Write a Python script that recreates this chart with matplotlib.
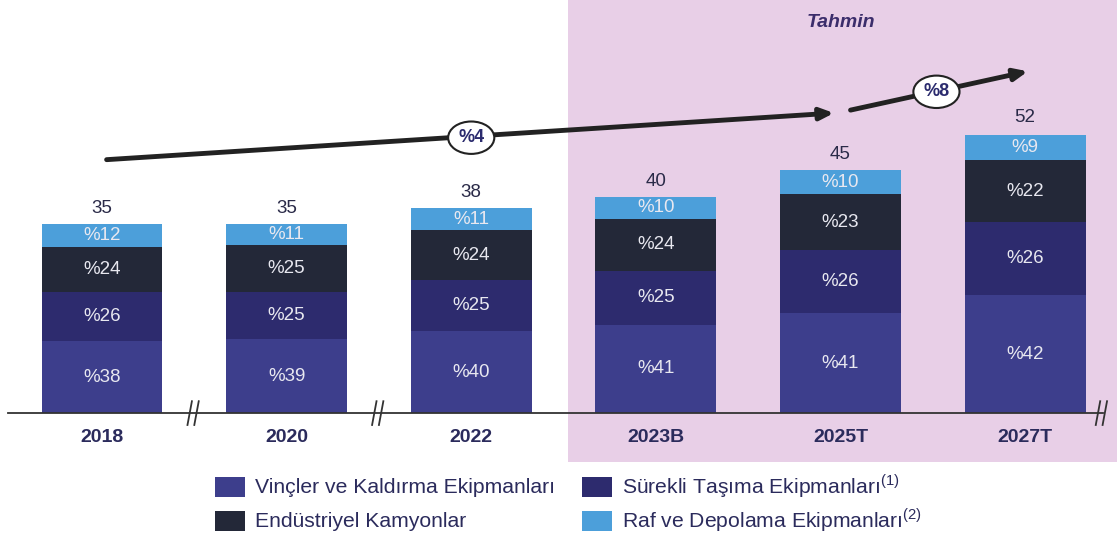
import matplotlib.pyplot as plt
from matplotlib.patches import Rectangle, Ellipse

years = ["2018", "2020", "2022", "2023B", "2025T", "2027T"]
totals = [35, 35, 38, 40, 45, 52]
vincler = [38, 39, 40, 41, 41, 42]       # Vinçler ve Kaldırma Ekipmanları
surekli = [26, 25, 25, 25, 26, 26]       # Sürekli Taşıma Ekipmanları
endustri = [24, 25, 24, 24, 23, 22]      # Endüstriyel Kamyonlar
raf = [12, 11, 11, 10, 10, 9]            # Raf ve Depolama Ekipmanları
cagr_labels = ["%4", "%8"]

colors = ["#3d3e8c", "#2d2b6e", "#232838", "#4c9fda"]
names = ["Vinçler ve Kaldırma Ekipmanları", "Sürekli Taşıma Ekipmanları$^{(1)}$",
         "Endüstriyel Kamyonlar", "Raf ve Depolama Ekipmanları$^{(2)}$"]

plt.rcParams['font.family'] = ['Liberation Sans', 'DejaVu Sans']
plt.rcParams['mathtext.fontset'] = 'custom'
plt.rcParams['mathtext.rm'] = 'Liberation Sans'

W, H = 1117, 540
fig = plt.figure(figsize=(W / 100, H / 100), dpi=100)
ax = fig.add_axes([0, 0, 1, 1])
ax.set_xlim(-0.5525, 5.498)
ax.set_ylim(-23.5, 76.5)
ax.axis("off")

x = list(range(len(years)))

# forecast shading
ax.axvspan(2.524, 6, ymin=(-9.1 + 23.5) / 100, ymax=1, color="#e8cfe7", zorder=0, lw=0)
ax.text(4.0, 72.3, "Tahmin", ha="center", va="center", fontsize=14,
        fontweight="bold", style="italic", color="#3b2d6b")

# stacked bars
bottoms = [0.0] * len(years)
for series, col in zip([vincler, surekli, endustri, raf], colors):
    heights = [t * p / 100 for t, p in zip(totals, series)]
    ax.bar(x, heights, bottom=bottoms, width=0.655, color=col, zorder=2, lw=0)
    for xi, b, h, p in zip(x, bottoms, heights, series):
        ax.text(xi, b + h / 2, "%" + str(p), ha="center", va="center",
                color="#e8e8f0", fontsize=13.5, zorder=3)
    bottoms = [b + h for b, h in zip(bottoms, heights)]

for xi, t in zip(x, totals):
    ax.text(xi, t + 2.8, str(t), ha="center", va="center", fontsize=13.5, color="#2a2a48")
    ax.text(xi, -4.5, years[xi], ha="center", va="center", fontsize=14,
            fontweight="bold", color="#2b2b5c")

# baseline with break marks
ax.plot([-0.51, 5.42], [0, 0], color="#333333", lw=1.3, zorder=4)
for bx in [0.5, 1.5, 5.42]:
    for dx in [-0.025, 0.012]:
        ax.plot([bx + dx - 0.012, bx + dx + 0.012], [-2.2, 2.2], color="#333333", lw=1.3, zorder=5)

# growth arrows
ax.annotate("", xy=(3.98, 55.6), xytext=(0.01, 46.9),
            arrowprops=dict(arrowstyle="-|>,head_length=0.8,head_width=0.35", lw=3.5, color="#222222"))
ax.annotate("", xy=(5.03, 63.4), xytext=(4.04, 56.0),
            arrowprops=dict(arrowstyle="-|>,head_length=0.8,head_width=0.35", lw=3.5, color="#222222"))
for (ex, ey), lab in zip([(2.0, 51.0), (4.52, 59.5)], cagr_labels):
    ax.add_patch(Ellipse((ex, ey), 0.25, 6.0, facecolor="white", edgecolor="#222222", lw=1.5, zorder=6))
    ax.text(ex, ey, lab, ha="center", va="center", fontsize=13, fontweight="bold",
            color="#2b2b6e", zorder=7)

# legend, laid out by hand so both rows line up (pixel positions -> axes fraction)
col_x = [215, 582]
row_y = [487, 521]
for i, (name, col) in enumerate(zip(names, colors)):
    px = col_x[i % 2]
    py = row_y[i // 2]
    ax.add_patch(Rectangle((px / W, 1 - (py + 10) / H), 30 / W, 20 / H,
                           transform=ax.transAxes, facecolor=col, edgecolor="none"))
    ax.text((px + 40) / W, 1 - (py + 6) / H, name, transform=ax.transAxes,
            ha="left", va="baseline", fontsize=15.2, color="#2b2b5c")

fig.savefig("out.png", dpi=100)
